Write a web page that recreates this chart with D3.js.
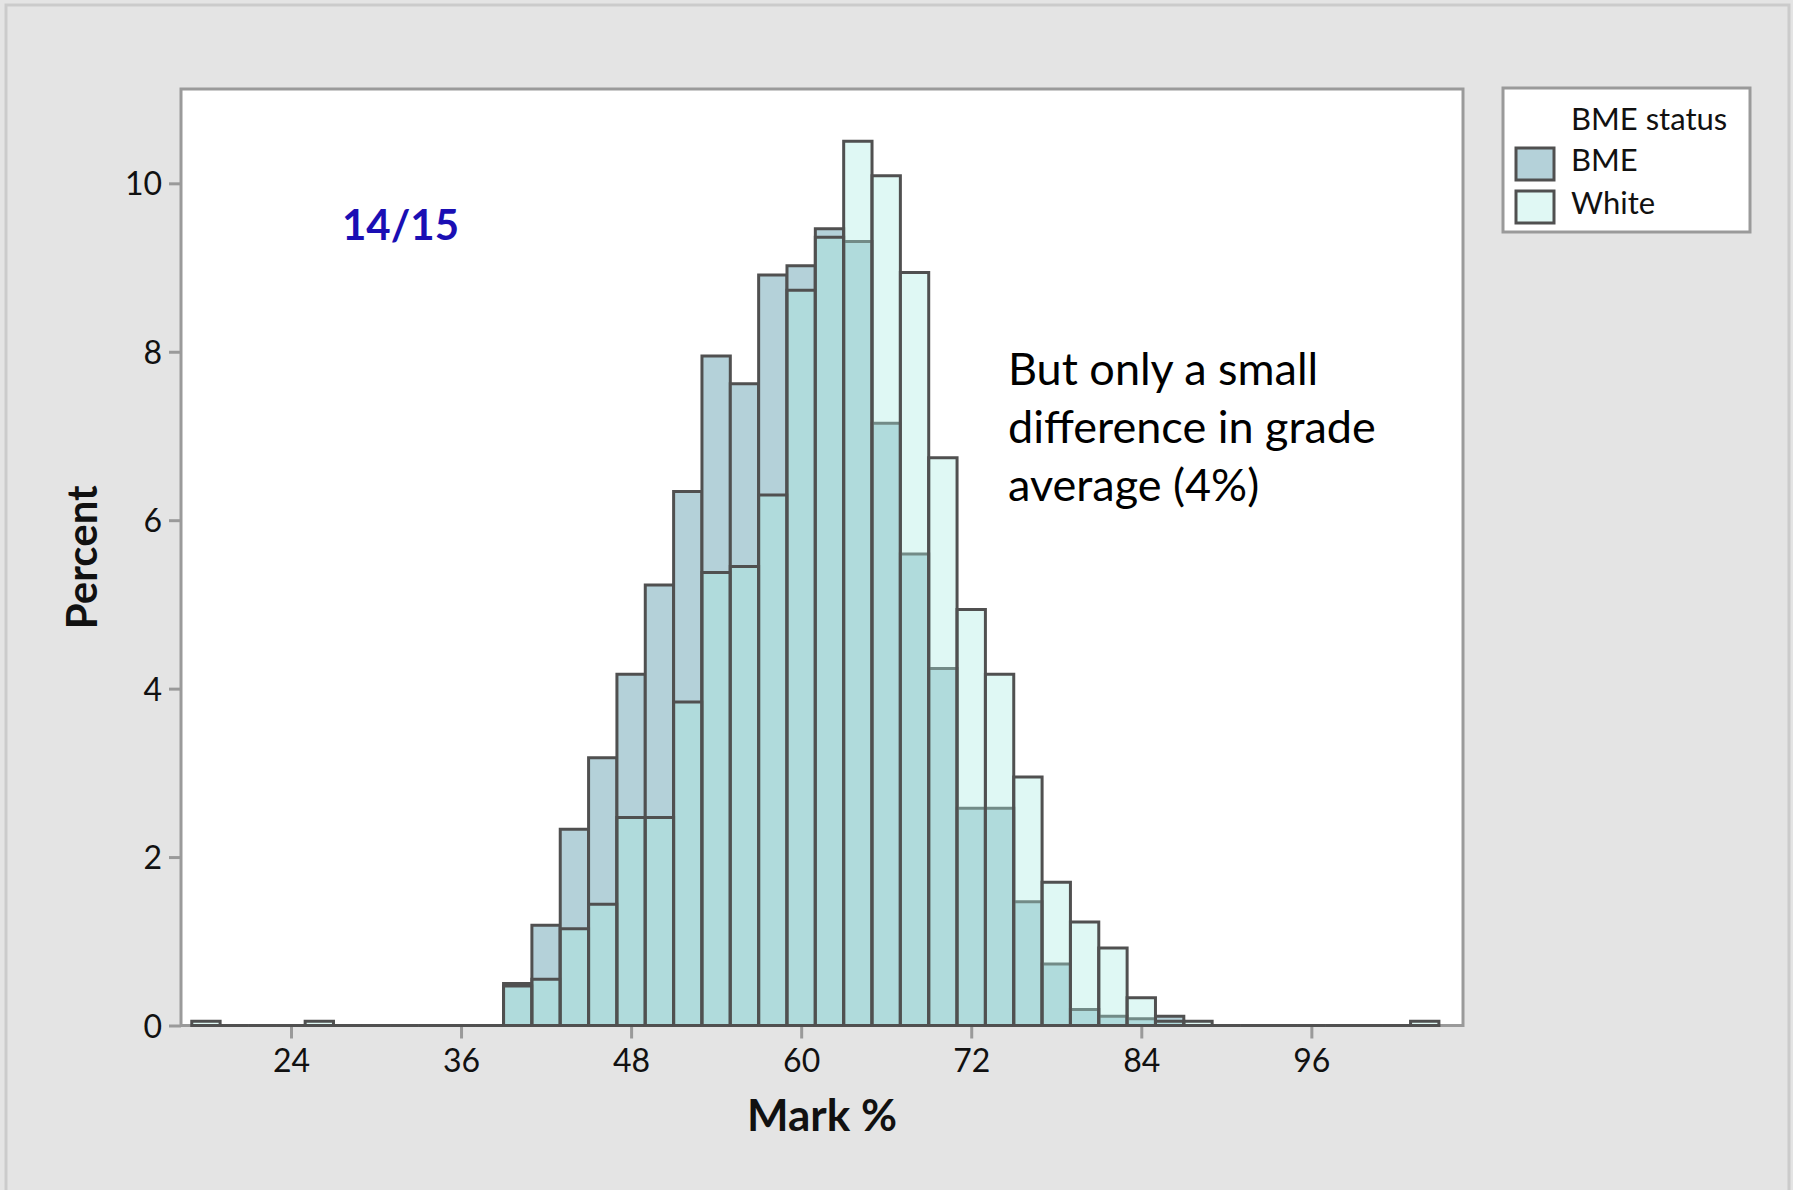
<!DOCTYPE html>
<html>
<head>
<meta charset="utf-8">
<script src="https://cdn.jsdelivr.net/npm/d3@7"></script>
<style>
  body { margin: 0; background: #e4e4e4; }
  svg { display: block; }
  text { font-family: Lato, "Open Sans", sans-serif; fill: #111; }
</style>
</head>
<body>
<div id="content"></div>
<script>
// histogram bins (midpoints, width 2)
var binMids = [18, 20, 22, 24, 26, 28, 30, 32, 34, 36, 38,
    40, 42, 44, 46, 48, 50, 52, 54, 56, 58, 60, 62, 64, 66, 68, 70, 72, 74, 76, 78, 80, 82, 84, 86,
    88, 90, 92, 94, 96, 98, 100, 102, 104];
var binWidth = 2;

// percent of each group per bin
var bmePct = [0, 0, 0, 0, 0, 0, 0, 0, 0, 0, 0,
    0.50, 1.19, 2.33, 3.18, 4.17, 5.23, 6.34, 7.95, 7.62, 8.91, 9.02, 9.46, 9.31, 7.15, 5.60, 4.24, 2.58, 2.58, 1.47, 0.73, 0.19, 0.11, 0.08, 0.11,
    0, 0, 0, 0, 0, 0, 0, 0, 0];
var whitePct = [0.05, 0, 0, 0, 0.05, 0, 0, 0, 0, 0, 0,
    0.47, 0.55, 1.15, 1.44, 2.47, 2.47, 3.84, 5.38, 5.45, 6.30, 8.73, 9.36, 10.50, 10.09, 8.94, 6.74, 4.94, 4.17, 2.95, 1.70, 1.23, 0.92, 0.33, 0.05,
    0.05, 0, 0, 0, 0, 0, 0, 0, 0.05];

var xTickValues = [24, 36, 48, 60, 72, 84, 96];
var yTickValues = [0, 2, 4, 6, 8, 10];
var groups = ["BME", "White"];
var legendTitle = "BME status";
var yearLabel = "14/15";
var noteLines = ["But only a small", "difference in grade", "average (4%)"];

var width = 1793, height = 1190;
var plot = { left: 181, right: 1463, top: 89, bottom: 1025.5 };

var svg = d3.select("#content")
    .append("svg")
    .attr("width", width)
    .attr("height", height);

// outer panel
svg.append("rect")
    .attr("x", 6).attr("y", 5)
    .attr("width", 1783).attr("height", 1200)
    .attr("fill", "#e4e4e4")
    .attr("stroke", "#cbcbcb")
    .attr("stroke-width", 3);

var x = d3.scaleLinear().domain([16.24, 106.7]).range([plot.left, plot.right]);
var y = d3.scaleLinear().domain([0, 11.12]).range([plot.bottom, plot.top]);

// data region
svg.append("rect")
    .attr("x", plot.left).attr("y", plot.top)
    .attr("width", plot.right - plot.left)
    .attr("height", plot.bottom - plot.top)
    .attr("fill", "#fff")
    .attr("stroke", "#9a9a9a")
    .attr("stroke-width", 3);

// axes
var xAxis = svg.append("g")
    .attr("transform", "translate(0," + plot.bottom + ")")
    .call(d3.axisBottom(x).tickValues(xTickValues).tickSize(13).tickPadding(11));
var yAxis = svg.append("g")
    .attr("transform", "translate(" + plot.left + ",0)")
    .call(d3.axisLeft(y).tickValues(yTickValues).tickSize(12).tickPadding(7));
[xAxis, yAxis].forEach(function (g) {
    g.select(".domain").remove();
    g.selectAll(".tick line").attr("stroke", "#9a9a9a").attr("stroke-width", 3);
    g.selectAll(".tick text")
        .style("font-family", "Lato, sans-serif")
        .style("font-size", "32px")
        .attr("fill", "#111");
});
yAxis.selectAll(".tick text").attr("dy", "0.36em");

function barPath(mid, v) {
    var x0 = x(mid - binWidth / 2), x1 = x(mid + binWidth / 2);
    var y0 = y(0), y1 = y(v);
    return "M" + x0 + "," + y0 + "V" + y1 + "H" + x1 + "V" + y0 + "Z";
}

var bmeData = binMids.map(function (m, i) { return { mid: m, value: bmePct[i] }; });
var whiteData = binMids.map(function (m, i) { return { mid: m, value: whitePct[i] }; });

// BME bars underneath
svg.append("g").selectAll("path")
    .data(bmeData)
    .enter()
    .append("path")
    .attr("d", function (d) { return barPath(d.mid, d.value); })
    .attr("fill", "#b4d1d9")
    .attr("stroke", "#505050")
    .attr("stroke-width", 3);

// White bars, semi transparent, on top
svg.append("g").selectAll("path")
    .data(whiteData)
    .enter()
    .append("path")
    .attr("d", function (d) { return barPath(d.mid, d.value); })
    .attr("fill", "rgb(172,237,226)")
    .attr("fill-opacity", 0.38)
    .attr("stroke", "#505050")
    .attr("stroke-width", 3);

// axis titles
svg.append("text")
    .attr("x", (plot.left + plot.right) / 2)
    .attr("y", 1131)
    .attr("text-anchor", "middle")
    .style("font-size", "44px")
    .style("font-weight", "bold")
    .text("Mark %");

svg.append("text")
    .attr("transform", "translate(97," + (plot.top + plot.bottom) / 2 + ") rotate(-90)")
    .attr("text-anchor", "middle")
    .style("font-size", "42px")
    .style("font-weight", "bold")
    .text("Percent");

// annotations
svg.append("text")
    .attr("x", 342).attr("y", 240)
    .style("font-size", "42px")
    .style("font-weight", "bold")
    .style("fill", "#1a0fb4")
    .text(yearLabel);

svg.append("g").selectAll("text")
    .data(noteLines)
    .enter()
    .append("text")
    .attr("x", 1008)
    .attr("y", function (d, i) { return 385 + i * 58; })
    .style("font-size", "45px")
    .style("fill", "#000")
    .text(function (d) { return d; });

// legend
var legend = svg.append("g");
legend.append("rect")
    .attr("x", 1503).attr("y", 88)
    .attr("width", 247).attr("height", 144)
    .attr("fill", "#fff")
    .attr("stroke", "#9a9a9a")
    .attr("stroke-width", 3);
legend.append("text")
    .attr("x", 1571).attr("y", 130)
    .style("font-size", "31px")
    .text(legendTitle);
var swatchFill = ["#b4d1d9", "#e0f8f4"];
groups.forEach(function (g, i) {
    legend.append("rect")
        .attr("x", 1516).attr("y", 148 + i * 43)
        .attr("width", 38).attr("height", 32)
        .attr("fill", swatchFill[i])
        .attr("stroke", "#505050")
        .attr("stroke-width", 3);
    legend.append("text")
        .attr("x", 1571).attr("y", 171 + i * 43)
        .style("font-size", "31px")
        .text(g);
});
</script>
</body>
</html>
